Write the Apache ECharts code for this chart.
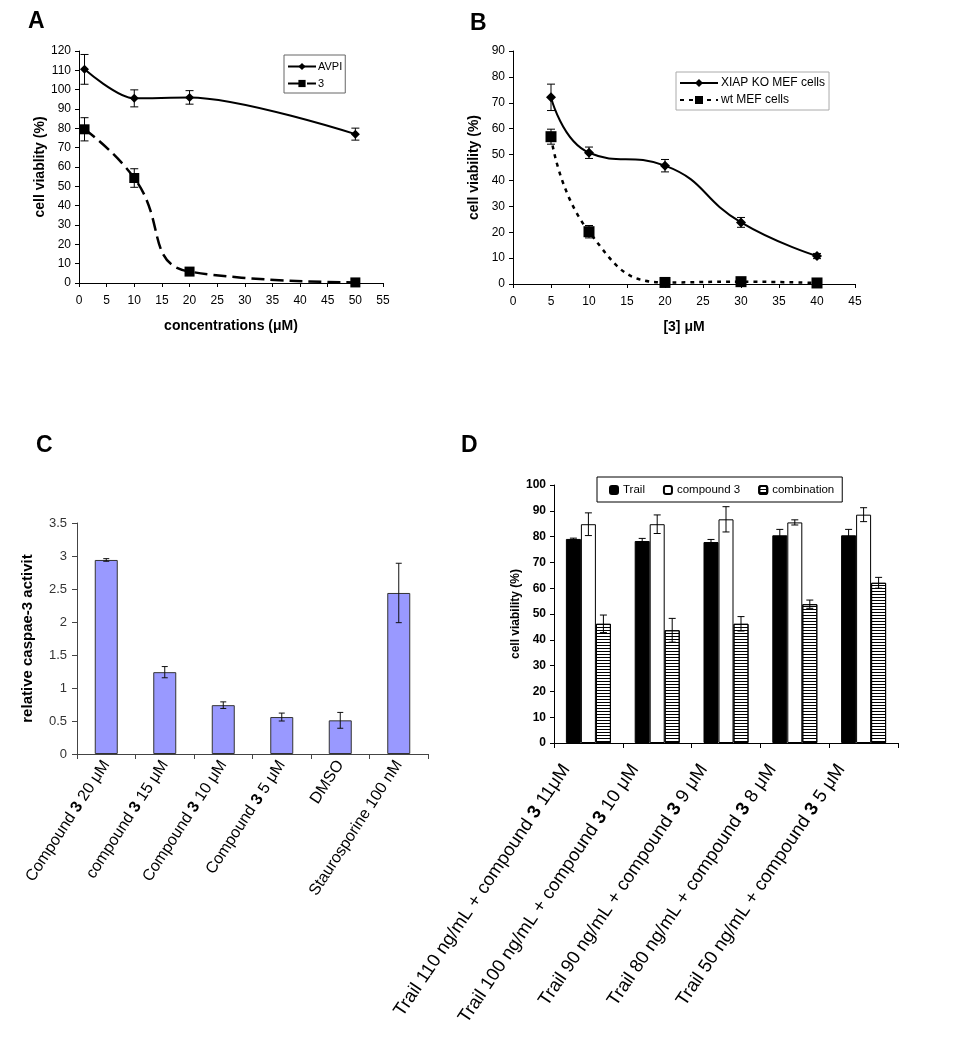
<!DOCTYPE html>
<html><head><meta charset="utf-8">
<script src="https://cdn.jsdelivr.net/npm/echarts@6/dist/echarts.min.js"></script>
<style>html,body{margin:0;padding:0;background:#fff}#c{width:954px;height:1050px}</style>
</head><body><div id="c"></div>
<script>
const F = 'Liberation Sans, Arial, Helvetica, sans-serif';

// ---- Panel A ----
const aConc = [1, 10, 20, 50];
const aAVPI = [110.5, 95.5, 96, 77];
const aAVPIErr = [7.7, 4.4, 3.5, 3.1];
const a3 = [79.5, 54.3, 5.9, 0.3];
const a3Err = [6, 4.8, 1, 0.5];

// ---- Panel B ----
const bConc = [5, 10, 20, 30, 40];
const bKO = [72.1, 50.7, 45.7, 23.8, 10.8];
const bKOErr = [5.1, 2.2, 2.4, 1.9, 1];
const bWT = [56.9, 20.2, 0.6, 0.9, 0.4];
const bWTErr = [2.9, 2.4, 0.5, 0.5, 0.3];

// ---- Panel C ----
const cCats = ['Compound 3 20 μM', 'compound 3 15 μM', 'Compound 3 10 μM', 'Compound 3 5 μM', 'DMSO', 'Staurosporine 100 nM'];
const cVals = [2.94, 1.24, 0.74, 0.56, 0.51, 2.44];
const cErr = [0.02, 0.085, 0.05, 0.06, 0.12, 0.45];

// ---- Panel D ----
const dCats = ['Trail 110 ng/mL + compound 3 11μM', 'Trail 100 ng/mL + compound 3 10 μM', 'Trail 90 ng/mL + compound 3 9 μM', 'Trail 80 ng/mL + compound 3 8 μM', 'Trail 50 ng/mL + compound 3 5 μM'];
const dTrail = [79.1, 78.3, 77.9, 80.5, 80.5];
const dTrailErr = [0.3, 1, 1, 2.3, 2.3];
const dComp = [84.8, 84.8, 86.7, 85.5, 88.5];
const dCompErr = [4.4, 3.6, 4.9, 1, 2.7];
const dComb = [46.2, 43.7, 46.2, 53.8, 62.1];
const dCombErr = [3.4, 4.6, 2.8, 1.6, 2.1];

function errSeries(xi, xs, ys, errs, cap, offset, color) {
  return {
    type: 'custom', xAxisIndex: xi, yAxisIndex: xi, z: 10, silent: true,
    encode: { x: 0, y: [1, 2] },
    data: xs.map((x, i) => [x, ys[i] - errs[i], ys[i] + errs[i]]),
    renderItem: (p, api) => {
      const lo = api.coord([api.value(0), api.value(1)]);
      const hi = api.coord([api.value(0), api.value(2)]);
      const x = lo[0] + offset;
      const st = { stroke: color || '#000', lineWidth: 1 };
      return { type: 'group', children: [
        { type: 'line', shape: { x1: x, y1: lo[1], x2: x, y2: hi[1] }, style: st },
        { type: 'line', shape: { x1: x - cap, y1: lo[1], x2: x + cap, y2: lo[1] }, style: st },
        { type: 'line', shape: { x1: x - cap, y1: hi[1], x2: x + cap, y2: hi[1] }, style: st }
      ]};
    }
  };
}

function valAxis(gi, min, max, interval, name, gap, extra) {
  return Object.assign({
    type: 'value', gridIndex: gi, min: min, max: max, interval: interval,
    name: name, nameLocation: 'middle', nameGap: gap, nameMoveOverlap: false,
    nameTextStyle: { fontFamily: F, fontWeight: 'bold', fontSize: 14, color: '#000' },
    axisLine: { show: true, lineStyle: { color: '#000', width: 1 } },
    axisTick: { show: true, length: 4, lineStyle: { color: '#000' } },
    axisLabel: { fontFamily: F, fontSize: 12, color: '#000', margin: 8 },
    splitLine: { show: false }
  }, extra || {});
}

const bold3 = v => v.replace(' 3 ', ' {b|3} ');

const chart = echarts.init(document.getElementById('c'), null, { renderer: 'canvas' });
chart.setOption({
  animation: false,
  backgroundColor: '#fff',
  textStyle: { fontFamily: F },
  title: [
    { text: 'A', left: 28, top: 10, padding: 0, textStyle: { fontFamily: F, fontSize: 23, fontWeight: 'bold', color: '#000' } },
    { text: 'B', left: 470, top: 12, padding: 0, textStyle: { fontFamily: F, fontSize: 23, fontWeight: 'bold', color: '#000' } },
    { text: 'C', left: 36, top: 434, padding: 0, textStyle: { fontFamily: F, fontSize: 23, fontWeight: 'bold', color: '#000' } },
    { text: 'D', left: 461, top: 434, padding: 0, textStyle: { fontFamily: F, fontSize: 23, fontWeight: 'bold', color: '#000' } }
  ],
  grid: [
    { left: 79, top: 51, width: 304, height: 232 },
    { left: 513, top: 51, width: 342, height: 233 },
    { left: 77, top: 523, width: 351, height: 231 },
    { left: 554, top: 485, width: 344, height: 258 }
  ],
  legend: [
    { data: ['AVPI', '3'], orient: 'vertical', left: 284, top: 55, padding: [6, 3, 4, 3], itemGap: 6,
      itemWidth: 28, itemHeight: 9, borderColor: '#666', borderWidth: 1,
      textStyle: { fontFamily: F, fontSize: 11, color: '#000', padding: [0, 0, 0, -3] } },
    { data: ['XIAP KO MEF cells', 'wt MEF cells'], orient: 'vertical', left: 676, top: 72, padding: [5, 4, 4, 3], itemGap: 5,
      itemWidth: 38, itemHeight: 10, borderColor: '#aaa', borderWidth: 1,
      textStyle: { fontFamily: F, fontSize: 12, color: '#000', padding: [0, 0, 0, -2] } },
    { data: ['Trail', 'compound 3', 'combination'], orient: 'horizontal', left: 597, top: 477, padding: [7, 8, 6, 12], itemGap: 18,
      itemWidth: 8, itemHeight: 8, borderColor: '#000', borderWidth: 1, backgroundColor: '#fff',
      textStyle: { fontFamily: F, fontSize: 11.5, color: '#000' } }
  ],
  xAxis: [
    valAxis(0, 0, 55, 5, 'concentrations (μM)', 36, { axisLabel: { fontFamily: F, fontSize: 12, color: '#000', margin: 12 } }),
    valAxis(1, 0, 45, 5, '[3] μM', 36, { axisLabel: { fontFamily: F, fontSize: 12, color: '#000', margin: 12 } }),
    { type: 'category', gridIndex: 2, data: cCats,
      axisLine: { show: true, lineStyle: { color: '#444' } },
      axisTick: { show: true, length: 5, lineStyle: { color: '#444' } },
      axisLabel: { interval: 0, rotate: 57, fontFamily: F, fontSize: 16, color: '#000', margin: 8,
        formatter: bold3, rich: { b: { fontFamily: F, fontSize: 16, fontWeight: 'bold', color: '#000' } } } },
    { type: 'category', gridIndex: 3, data: dCats,
      axisLine: { show: true, lineStyle: { color: '#000' } },
      axisTick: { show: true, length: 5, lineStyle: { color: '#000' } },
      axisLabel: { interval: 0, rotate: 56, fontFamily: F, fontSize: 18.5, color: '#000', margin: -10,
        padding: [0, 40, 0, 0],
        formatter: bold3, rich: { b: { fontFamily: F, fontSize: 18.5, fontWeight: 'bold', color: '#000' } } } }
  ],
  yAxis: [
    valAxis(0, 0, 120, 10, 'cell viablity (%)', 32),
    valAxis(1, 0, 90, 10, 'cell viability (%)', 32),
    valAxis(2, 0, 3.5, 0.5, 'relative caspae-3 activit', 42, {
      axisLine: { show: true, lineStyle: { color: '#444' } },
      axisTick: { show: true, length: 5, lineStyle: { color: '#444' } },
      axisLabel: { fontFamily: F, fontSize: 13, color: '#333', margin: 10 },
      nameTextStyle: { fontFamily: F, fontWeight: 'bold', fontSize: 15, color: '#000' } }),
    valAxis(3, 0, 100, 10, 'cell viability (%)', 32, {
      axisLabel: { fontFamily: F, fontSize: 12, fontWeight: 'bold', color: '#000', margin: 8 },
      nameTextStyle: { fontFamily: F, fontWeight: 'bold', fontSize: 12, color: '#000' } })
  ],
  series: [
    { name: 'AVPI', type: 'line', xAxisIndex: 0, yAxisIndex: 0, smooth: 0.3,
      data: aConc.map((x, i) => [x, aAVPI[i]]),
      symbol: 'diamond', symbolSize: 9, itemStyle: { color: '#000' },
      lineStyle: { color: '#000', width: 2 } },
    { name: '3', type: 'line', xAxisIndex: 0, yAxisIndex: 0, smooth: 0.5,
      data: aConc.map((x, i) => [x, a3[i]]),
      symbol: 'rect', symbolSize: 10, itemStyle: { color: '#000' },
      lineStyle: { color: '#000', width: 2.5, type: [13, 6] } },
    errSeries(0, aConc, aAVPI, aAVPIErr, 4, 0),
    errSeries(0, aConc, a3, a3Err, 4, 0),

    { name: 'XIAP KO MEF cells', type: 'line', xAxisIndex: 1, yAxisIndex: 1, smooth: 0.5,
      data: bConc.map((x, i) => [x, bKO[i]]),
      symbol: 'diamond', symbolSize: 10, itemStyle: { color: '#000' },
      lineStyle: { color: '#000', width: 2 } },
    { name: 'wt MEF cells', type: 'line', xAxisIndex: 1, yAxisIndex: 1, smooth: 0.5,
      data: bConc.map((x, i) => [x, bWT[i]]),
      symbol: 'rect', symbolSize: 11, itemStyle: { color: '#000' },
      lineStyle: { color: '#000', width: 2.5, type: [4, 5] } },
    errSeries(1, bConc, bKO, bKOErr, 4, 0),
    errSeries(1, bConc, bWT, bWTErr, 4, 0),

    { name: 'caspase', type: 'bar', xAxisIndex: 2, yAxisIndex: 2, data: cVals, barWidth: 23,
      itemStyle: { color: '#9999ff', borderColor: '#333', borderWidth: 1 } },
    errSeries(2, cCats.map((c, i) => i), cVals, cErr, 3, 0, '#111'),

    { name: 'Trail', type: 'bar', xAxisIndex: 3, yAxisIndex: 3, data: dTrail, barWidth: 15, barGap: '0%',
      itemStyle: { color: '#000', borderColor: '#000', borderWidth: 1 } },
    { name: 'compound 3', type: 'bar', xAxisIndex: 3, yAxisIndex: 3, data: dComp, barWidth: 15, barGap: '0%',
      itemStyle: { color: '#fff', borderColor: '#000', borderWidth: 1 } },
    { name: 'combination', type: 'bar', xAxisIndex: 3, yAxisIndex: 3, data: dComb, barWidth: 15, barGap: '0%',
      itemStyle: { color: '#fff', borderColor: '#000', borderWidth: 1,
        decal: { symbol: 'rect', symbolSize: 1, dashArrayX: [1, 0], dashArrayY: [1, 2], color: '#000', rotation: 0 } } },
    errSeries(3, dCats.map((c, i) => i), dTrail, dTrailErr, 3.5, -15),
    errSeries(3, dCats.map((c, i) => i), dComp, dCompErr, 3.5, 0),
    errSeries(3, dCats.map((c, i) => i), dComb, dCombErr, 3.5, 15)
  ]
});
</script></body></html>
